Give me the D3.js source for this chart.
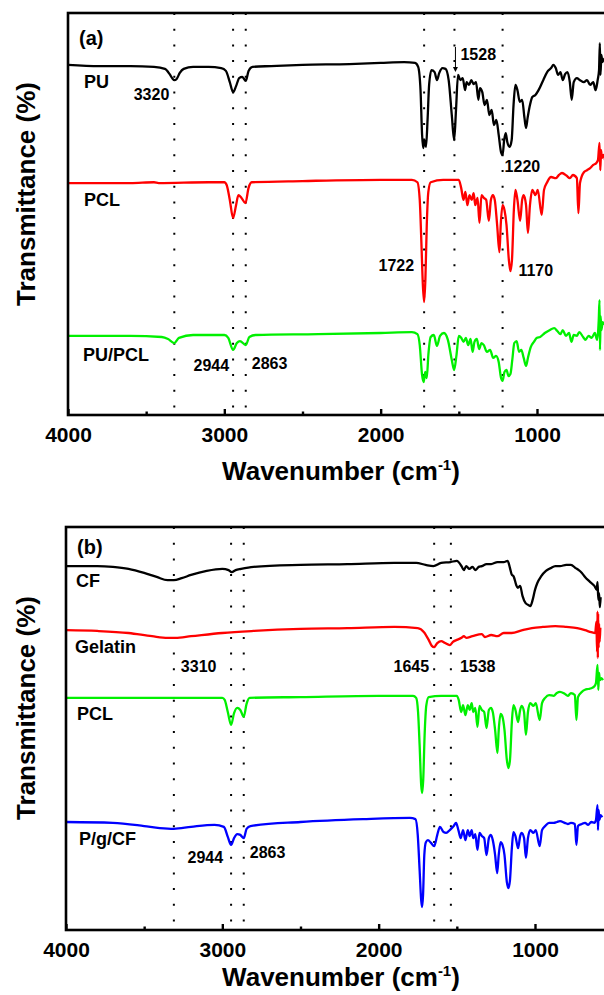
<!DOCTYPE html>
<html>
<head>
<meta charset="utf-8">
<script src="https://cdn.jsdelivr.net/npm/d3@7"></script>
<style>
body { margin: 0; background: #fff; }
text { font-family: "Liberation Sans", Arial, sans-serif; font-weight: bold; fill: #000; }
</style>
</head>
<body>
<script>
// ---- data: [wavenumber (cm-1), offset transmittance (0-100 of panel height)] ----
var puA = [[4000,87.1],[3800,86.8],[3600,86.8],[3450,86.6],[3380,86.1],[3350,84.8],[3330,83.6],[3320,83.3],[3305,83.6],[3285,85.1],[3260,86.1],[3200,86.6],[3100,86.6],[3020,86.3],[2990,85.6],[2965,82.8],[2944,80.3],[2925,81.8],[2905,83.8],[2885,84.1],[2863,83.1],[2845,85.6],[2820,86.6],[2700,86.8],[2500,87.1],[2200,87.3],[2000,87.6],[1850,87.8],[1780,87.6],[1760,86.6],[1745,80.8],[1735,69.7],[1728,66.4],[1720,68.4],[1710,66.7],[1700,73.4],[1690,82.1],[1675,85.8],[1655,85.3],[1640,83.3],[1625,85.1],[1605,86.3],[1585,86.1],[1565,83.3],[1545,74.6],[1530,68.4],[1518,75.9],[1505,84.6],[1490,83.3],[1475,83.8],[1460,80.8],[1450,82.8],[1435,82.1],[1420,83.3],[1405,82.3],[1390,82.8],[1375,78.4],[1365,81.3],[1350,80.3],[1335,77.1],[1320,78.4],[1305,74.6],[1290,75.9],[1275,72.1],[1260,73.4],[1245,69.7],[1230,65.4],[1220,64.7],[1210,68.4],[1200,70.1],[1190,67.9],[1175,66.7],[1162,68.4],[1150,77.1],[1138,82.1],[1125,80.8],[1110,77.9],[1095,78.4],[1080,73.9],[1070,71.4],[1060,73.9],[1045,77.1],[1030,79.1],[1010,79.6],[990,80.8],[960,83.3],[935,85.3],[910,86.3],[895,87.1],[880,86.3],[865,84.6],[850,85.3],[835,83.3],[820,84.8],[805,85.3],[790,82.8],[778,78.4],[765,82.8],[745,83.8],[725,83.3],[700,82.8],[680,83.3],[660,82.1],[640,82.8],[625,80.8],[612,83.3],[603,85.8],[598,92.5],[594,84.6],[588,89.6],[582,87.8],[575,88.3],[565,88.8]];

var pclA = [[4000,57.7],[3600,57.7],[3450,57.9],[3420,57.7],[3100,57.9],[3000,57.9],[2985,57.2],[2965,53.5],[2944,49.0],[2925,52.2],[2910,54.7],[2890,54.0],[2865,52.7],[2845,56.5],[2825,57.9],[2500,58.2],[2000,58.5],[1800,58.5],[1765,57.9],[1750,53.5],[1740,43.5],[1730,32.3],[1722,28.1],[1714,33.6],[1705,47.3],[1695,55.5],[1680,57.9],[1600,58.5],[1500,58.5],[1485,56.5],[1470,53.5],[1458,55.5],[1445,52.2],[1432,54.7],[1418,53.5],[1405,55.2],[1395,52.2],[1380,54.0],[1368,47.8],[1355,54.7],[1340,54.0],[1325,53.5],[1308,48.3],[1295,53.5],[1282,54.7],[1270,53.5],[1255,47.3],[1240,40.5],[1232,47.3],[1220,52.2],[1208,51.0],[1195,47.3],[1180,38.6],[1170,35.8],[1160,38.6],[1148,51.0],[1138,56.0],[1125,53.5],[1108,48.3],[1095,53.5],[1085,54.7],[1070,52.2],[1058,45.3],[1045,52.2],[1030,56.0],[1010,54.7],[995,56.0],[970,49.8],[955,56.0],[935,57.9],[910,59.2],[880,58.9],[860,59.7],[840,60.2],[810,59.5],[790,58.9],[770,59.7],[745,58.9],[735,50.2],[725,57.7],[700,60.4],[680,60.9],[660,61.4],[640,62.2],[620,62.7],[610,63.4],[600,67.7],[595,60.9],[590,65.9],[585,63.9],[575,64.7],[565,63.4]];

var puPclA = [[4000,19.7],[3600,19.7],[3400,19.4],[3360,18.9],[3320,17.9],[3290,19.2],[3200,19.9],[3000,19.9],[2975,19.2],[2944,16.2],[2920,17.9],[2900,18.4],[2863,17.4],[2840,19.4],[2800,19.9],[2400,20.1],[2000,20.4],[1800,20.6],[1765,20.1],[1750,17.4],[1735,9.9],[1725,8.2],[1715,10.7],[1705,9.2],[1695,14.9],[1680,19.4],[1660,19.9],[1640,17.2],[1620,19.7],[1595,20.4],[1570,18.7],[1545,13.7],[1530,11.2],[1515,14.9],[1500,19.7],[1485,19.2],[1470,18.2],[1455,19.2],[1440,17.4],[1425,18.9],[1412,15.7],[1400,18.2],[1385,18.9],[1370,16.4],[1355,17.9],[1340,17.4],[1320,15.7],[1300,16.2],[1280,14.2],[1262,14.7],[1245,13.2],[1230,9.2],[1220,8.5],[1208,10.7],[1195,11.2],[1182,9.7],[1170,10.2],[1158,13.7],[1145,17.9],[1130,18.4],[1115,15.7],[1100,16.2],[1085,14.2],[1070,12.2],[1058,14.2],[1040,16.9],[1020,18.2],[1000,19.2],[980,19.4],[950,20.4],[920,21.1],[890,21.6],[870,20.9],[850,20.1],[835,21.1],[815,19.7],[795,20.4],[780,18.2],[765,19.9],[745,19.7],[730,20.6],[705,19.4],[690,18.7],[670,19.7],[650,19.2],[630,20.4],[615,18.7],[605,23.6],[600,28.6],[597,16.2],[593,24.6],[588,21.1],[580,23.1],[570,22.4]];

var cfB = [[4000,90.3],[3800,90.3],[3700,90.1],[3600,89.6],[3500,88.6],[3420,87.6],[3350,86.8],[3310,86.8],[3260,87.3],[3200,88.1],[3100,89.1],[3000,89.6],[2960,89.3],[2940,88.8],[2915,89.3],[2880,89.6],[2800,90.1],[2500,90.6],[2200,90.8],[1900,91.1],[1760,91.1],[1700,90.6],[1650,90.3],[1600,91.1],[1540,91.3],[1500,91.6],[1470,90.3],[1455,89.3],[1440,90.3],[1420,89.6],[1400,90.1],[1380,89.3],[1360,90.1],[1340,90.3],[1310,90.8],[1280,90.8],[1240,91.3],[1200,91.3],[1175,91.6],[1160,89.8],[1150,88.3],[1135,87.6],[1120,85.6],[1110,84.9],[1095,85.4],[1080,82.9],[1060,81.1],[1040,80.6],[1030,80.4],[1015,81.9],[1000,84.4],[985,86.1],[960,87.8],[930,89.1],[900,89.8],[870,90.3],[840,90.3],[800,90.6],[770,90.6],[740,89.8],[720,89.3],[700,88.6],[680,87.6],[660,86.8],[640,86.1],[620,85.4],[605,84.4],[600,86.3],[595,81.9],[590,83.6],[585,80.1],[580,82.6]];

var gelatinB = [[4000,74.4],[3800,74.2],[3600,73.7],[3450,72.9],[3350,72.5],[3300,72.5],[3200,72.9],[3000,73.7],[2800,74.2],[2500,74.7],[2200,74.9],[1900,75.2],[1750,74.9],[1710,73.9],[1680,72.0],[1660,70.5],[1645,70.2],[1625,71.2],[1600,71.7],[1575,71.2],[1545,70.7],[1525,71.5],[1500,72.0],[1470,72.5],[1455,72.9],[1440,72.5],[1400,72.9],[1340,73.4],[1320,72.7],[1280,73.2],[1240,72.9],[1200,73.7],[1150,73.7],[1080,74.4],[1020,74.9],[950,75.2],[870,75.4],[800,75.2],[730,74.9],[680,74.4],[640,73.9],[615,73.7],[607,76.5],[603,69.0],[600,79.0],[598,67.5],[596,78.5],[593,70.0],[590,76.0],[586,71.5],[582,75.0]];

var pclB = [[4000,57.6],[3600,57.6],[3200,57.6],[3000,57.6],[2985,57.1],[2965,54.1],[2944,50.9],[2925,53.8],[2905,55.1],[2885,54.6],[2863,52.9],[2845,56.1],[2825,57.6],[2500,57.8],[2000,58.1],[1780,58.1],[1760,57.6],[1748,54.1],[1738,45.9],[1728,36.0],[1722,34.0],[1715,37.2],[1706,48.4],[1695,55.8],[1680,57.8],[1600,58.1],[1500,58.1],[1488,57.1],[1472,54.1],[1460,55.8],[1445,53.3],[1430,55.8],[1418,54.6],[1405,56.3],[1395,54.1],[1382,55.1],[1368,50.4],[1355,55.6],[1340,54.6],[1325,54.1],[1310,50.1],[1295,54.6],[1282,55.1],[1270,54.1],[1255,49.6],[1240,43.9],[1232,49.6],[1220,53.6],[1208,52.9],[1195,49.6],[1180,42.2],[1170,40.2],[1160,42.2],[1148,51.6],[1138,55.8],[1125,54.6],[1108,51.6],[1095,54.6],[1085,55.6],[1070,54.1],[1058,48.4],[1045,54.1],[1030,56.3],[1010,55.6],[995,56.3],[970,52.1],[955,56.3],[935,57.6],[910,58.3],[880,58.1],[860,58.8],[840,59.1],[810,58.6],[790,58.1],[770,58.8],[745,58.3],[735,52.1],[725,57.8],[700,59.1],[680,59.6],[660,59.8],[640,60.0],[620,60.5],[610,61.3],[600,65.8],[595,59.6],[590,63.8],[585,62.0],[575,62.5],[565,62.0]];

var pgcfB = [[4000,26.8],[3700,26.6],[3500,25.8],[3400,25.3],[3310,25.1],[3200,25.6],[3050,26.1],[2990,25.6],[2965,23.1],[2944,21.1],[2925,22.8],[2905,23.8],[2885,23.6],[2863,22.8],[2845,25.1],[2820,25.8],[2500,26.8],[2100,27.5],[1800,27.8],[1765,27.5],[1750,23.6],[1738,14.9],[1728,7.4],[1722,5.7],[1716,8.7],[1708,18.6],[1698,21.8],[1685,22.3],[1665,21.6],[1645,20.8],[1625,23.6],[1608,25.6],[1585,24.3],[1568,24.1],[1545,24.8],[1520,25.8],[1505,26.6],[1490,24.8],[1475,22.8],[1460,24.8],[1445,22.3],[1430,24.8],[1418,23.3],[1405,24.8],[1395,22.8],[1382,23.8],[1368,19.9],[1355,24.1],[1340,23.3],[1325,22.8],[1310,18.6],[1295,22.8],[1282,23.6],[1270,22.3],[1255,18.6],[1242,14.1],[1232,18.6],[1220,21.8],[1208,21.1],[1195,18.6],[1180,11.9],[1170,10.4],[1160,12.4],[1148,20.3],[1138,24.3],[1125,23.3],[1108,20.3],[1095,23.3],[1085,24.1],[1070,22.8],[1058,17.9],[1045,22.8],[1030,24.8],[1010,24.1],[995,24.8],[970,20.8],[955,24.8],[935,25.8],[910,26.6],[880,26.6],[860,26.8],[840,27.0],[810,26.6],[790,26.3],[770,26.6],[745,26.3],[735,21.1],[725,25.8],[700,26.3],[680,26.6],[660,26.1],[640,26.8],[620,26.6],[610,27.3],[600,31.0],[597,24.8],[593,29.8],[588,27.3],[580,28.5],[570,28.0]];

var xTicks = [4000, 3000, 2000, 1000];
var xMinorTicks = [3500, 2500, 1500];
var marksA = [3320, 2944, 2863, 1722, 1528, 1220];
var marksB = [3310, 2944, 2863, 1645, 1538];
var namesA = ["PU", "PCL", "PU/PCL"];
var namesB = ["CF", "Gelatin", "PCL", "P/g/CF"];

// ---- layout ----
var width = 604, height = 995;
var pxPerUnit = 0.15633;   // px per cm-1

var svg = d3.select("body").append("svg")
    .attr("width", width)
    .attr("height", height)
    .style("background", "#fff");

var panels = [
  { tag: "(a)", left: 68, top: 13, bottom: 415,
    series: [puA, pclA, puPclA], colors: ["#000", "#ff0000", "#00f000"],
    names: namesA, nameY: [88, 206, 361], nameX: [84, 84, 83],
    marks: marksA,
    peaks: [
      { t: "3320", wn: 3320, dx: -5, y: 100, a: "end" },
      { t: "1528", wn: 1528, dx: 6, y: 60, a: "start" },
      { t: "1220", wn: 1220, dx: 2, y: 172, a: "start" },
      { t: "1722", wn: 1722, dx: -10, y: 271, a: "end" },
      { t: "1170", wn: 1170, dx: 8, y: 276, a: "start" },
      { t: "2944", wn: 2944, dx: -4, y: 371, a: "end" },
      { t: "2863", wn: 2863, dx: 6, y: 369, a: "start" }
    ],
    arrow: { wn: 1528, y1: 47, y2: 72 },
    titleY: 194, xTitleY: 480 },
  { tag: "(b)", left: 66, top: 527, bottom: 930,
    series: [cfB, gelatinB, pclB, pgcfB], colors: ["#000", "#ff0000", "#00f000", "#0000ff"],
    names: namesB, nameY: [587, 653, 720, 845], nameX: [76, 75, 77, 79],
    marks: marksB,
    peaks: [
      { t: "3310", wn: 3310, dx: 7, y: 672, a: "start" },
      { t: "1645", wn: 1645, dx: -5, y: 672, a: "end" },
      { t: "1538", wn: 1538, dx: 9, y: 672, a: "start" },
      { t: "2944", wn: 2944, dx: -8, y: 863, a: "end" },
      { t: "2863", wn: 2863, dx: 6, y: 858, a: "start" }
    ],
    arrow: null,
    titleY: 708, xTitleY: 986 }
];

panels.forEach(function(p, i) {
  var x = d3.scaleLinear()
      .domain([4000, 500])
      .range([p.left, p.left + 3500 * pxPerUnit]);
  var y = d3.scaleLinear()
      .domain([0, 100])
      .range([p.bottom, p.top]);

  var g = svg.append("g");

  g.append("clipPath").attr("id", "clip" + i)
    .append("rect")
      .attr("x", p.left).attr("y", p.top)
      .attr("width", 3500 * pxPerUnit).attr("height", p.bottom - p.top);

  // dotted marker lines
  g.selectAll("line.mark")
      .data(p.marks)
      .enter().append("line")
      .attr("class", "mark")
      .attr("x1", function(d) { return x(d); })
      .attr("x2", function(d) { return x(d); })
      .attr("y1", p.top)
      .attr("y2", p.bottom)
      .attr("stroke", "#000")
      .attr("stroke-width", 2)
      .attr("stroke-dasharray", "2,13.7");

  // spectra
  var line = d3.line()
      .x(function(d) { return x(d[0]); })
      .y(function(d) { return y(d[1]); })
      .curve(d3.curveMonotoneX);

  g.selectAll("path.spec")
      .data(p.series)
      .enter().append("path")
      .attr("class", "spec")
      .attr("clip-path", "url(#clip" + i + ")")
      .attr("d", line)
      .attr("fill", "none")
      .attr("stroke", function(d, j) { return p.colors[j]; })
      .attr("stroke-width", 2.3)
      .attr("stroke-linejoin", "round");

  // frame
  g.append("rect")
      .attr("x", p.left).attr("y", p.top)
      .attr("width", 3500 * pxPerUnit).attr("height", p.bottom - p.top)
      .attr("fill", "none")
      .attr("stroke", "#000")
      .attr("stroke-width", 2.6);

  // x axis
  var ax = g.append("g")
      .attr("transform", "translate(0," + p.bottom + ")")
      .call(d3.axisBottom(x).tickValues(xTicks).tickFormat(d3.format("d"))
        .tickSizeInner(-6).tickSizeOuter(0).tickPadding(12));
  ax.select(".domain").remove();
  ax.selectAll("line").attr("stroke-width", 2.4);
  ax.selectAll("text")
      .style("font-size", "21px")
      .style("font-family", "'Liberation Sans', Arial, sans-serif")
      .style("font-weight", "bold")
      .attr("fill", "#000");

  var axm = g.append("g")
      .attr("transform", "translate(0," + p.bottom + ")")
      .call(d3.axisBottom(x).tickValues(xMinorTicks).tickSizeInner(-3.5).tickSizeOuter(0).tickFormat(""));
  axm.select(".domain").remove();
  axm.selectAll("line").attr("stroke-width", 2.4);

  // titles
  var xt = g.append("text")
      .attr("x", 341)
      .attr("y", p.xTitleY)
      .attr("text-anchor", "middle")
      .style("font-size", "26px")
      .text("Wavenumber (cm");
  xt.append("tspan").attr("dy", -10).style("font-size", "15px").text("-1");
  xt.append("tspan").attr("dy", 10).text(")");

  g.append("text")
      .attr("transform", "translate(35," + p.titleY + ") rotate(-90)")
      .attr("text-anchor", "middle")
      .style("font-size", "26px")
      .text("Transmittance (%)");

  // panel tag
  g.append("text")
      .attr("x", p.left + 11)
      .attr("y", p.top + 32 - (i ? 5 : 0))
      .style("font-size", "20px")
      .text(p.tag);

  // series names
  g.selectAll("text.name")
      .data(p.names)
      .enter().append("text")
      .attr("class", "name")
      .attr("x", function(d, j) { return p.nameX[j]; })
      .attr("y", function(d, j) { return p.nameY[j]; })
      .style("font-size", "18px")
      .text(function(d) { return d; });

  // peak labels
  g.selectAll("text.peak")
      .data(p.peaks)
      .enter().append("text")
      .attr("class", "peak")
      .attr("x", function(d) { return x(d.wn) + d.dx; })
      .attr("y", function(d) { return d.y; })
      .attr("text-anchor", function(d) { return d.a; })
      .style("font-size", "16px")
      .text(function(d) { return d.t; });

  if (p.arrow) {
    var ax0 = x(p.arrow.wn) + 1;
    g.append("line")
        .attr("x1", ax0).attr("x2", ax0)
        .attr("y1", p.arrow.y1).attr("y2", p.arrow.y2 - 3)
        .attr("stroke", "#000").attr("stroke-width", 1);
    g.append("path")
        .attr("d", "M" + (ax0 - 2.5) + "," + (p.arrow.y2 - 5) + "L" + (ax0 + 2.5) + "," + (p.arrow.y2 - 5) + "L" + ax0 + "," + p.arrow.y2 + "Z")
        .attr("fill", "#000");
  }
});
</script>
</body>
</html>
